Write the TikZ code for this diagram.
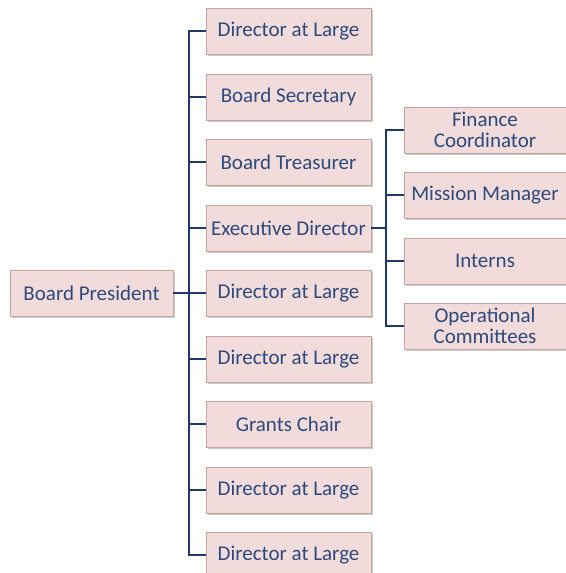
\documentclass[tikz,border=0pt]{standalone}
\usepackage{fontspec}
\setmainfont{Carlito}
\usetikzlibrary{shadows}
\definecolor{boxfill}{HTML}{F2DCDB}
\definecolor{boxline}{HTML}{C4A4A3}
\definecolor{txt}{HTML}{2C4A7C}
\definecolor{conn}{HTML}{1F3A6A}
\tikzset{
  box/.style={draw=boxline, line width=0.8pt, fill=boxfill, text=txt,
    minimum width=165pt, minimum height=46pt, inner sep=2pt, align=center,
    font=\fontsize{21}{21}\selectfont,
    drop shadow={shadow xshift=1.5pt, shadow yshift=-1.5pt, opacity=0.35, fill=black!60}},
  wbox/.style={box, minimum width=162pt},
  link/.style={draw=conn, line width=2.8pt}
}
\begin{document}
\begin{tikzpicture}[x=1pt,y=-1pt]
\useasboundingbox (0,0) rectangle (565,573);
\node[box, minimum width=163pt] (pres) at (91.5,293) {Board President};
\node[box] (d1) at (288.5,31) {Director at Large};
\node[box] (sec) at (288.5,97) {Board Secretary};
\node[box] (tre) at (288.5,162) {Board Treasurer};
\node[box] (exe) at (288.5,228) {Executive Director};
\node[box] (d2) at (288.5,293) {Director at Large};
\node[box] (d3) at (288.5,359) {Director at Large};
\node[box] (gra) at (288.5,424) {Grants Chair};
\node[box] (d4) at (288.5,490) {Director at Large};
\node[box] (d5) at (288.5,555) {Director at Large};
\node[wbox] (fin) at (485,130) {Finance\\Coordinator};
\node[wbox] (mis) at (485,195) {Mission Manager};
\node[wbox] (int) at (485,261) {Interns};
\node[wbox] (ope) at (485,326) {Operational\\Committees};
\coordinate (bus) at (189,0);
\coordinate (bus2) at (386,0);
\draw[link] (pres.east) -- (d2.west);
\draw[link] (d1.west) -- (d1.west -| bus) -- (d5.west -| bus) -- (d5.west);
\foreach \n in {sec,tre,exe,d3,gra,d4}
  \draw[link] (\n.west -| bus) -- (\n.west);
\draw[link] (exe.east) -- (exe.east -| bus2);
\draw[link] (fin.west) -- (fin.west -| bus2) -- (ope.west -| bus2) -- (ope.west);
\foreach \n in {mis,int}
  \draw[link] (\n.west -| bus2) -- (\n.west);
\end{tikzpicture}
\end{document}
